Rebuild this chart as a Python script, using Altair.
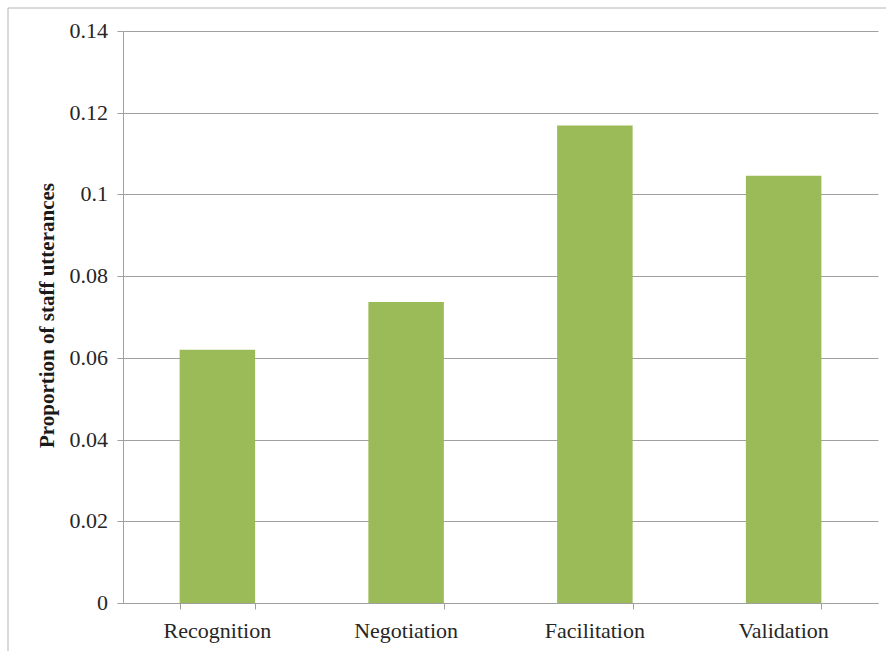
import altair as alt
import pandas as pd

categories = ["Recognition", "Negotiation", "Facilitation", "Validation"]
values = [0.062, 0.0737, 0.1169, 0.1046]
y_ticks = [0, 0.02, 0.04, 0.06, 0.08, 0.1, 0.12, 0.14]
y_tick_labels = ["0", "0.02", "0.04", "0.06", "0.08", "0.1", "0.12", "0.14"]

df = pd.DataFrame({"category": categories, "value": values})
ticks_df = pd.DataFrame({"tick": y_ticks, "label": y_tick_labels})

FONT = "Liberation Serif"
GRID = "#a0a0a0"
TEXT = "#262626"

x_axis = alt.Axis(
    title=None,
    labels=False,
    tickBand="extent",
    tickSize=6,
    tickColor=GRID,
    domainColor=GRID,
    grid=False,
)
y_axis = alt.Axis(
    title="Proportion of staff utterances",
    values=y_ticks,
    labels=False,
    tickSize=6,
    tickColor=GRID,
    domainColor=GRID,
    gridColor=GRID,
    gridWidth=1,
    titleFont=FONT,
    titleFontSize=21,
    titleFontWeight="bold",
    titleColor="#1a1a1a",
    titleAngle=-90,
    titleBaseline="middle",
    titleAlign="center",
    titleX=-76,
    titleY=284,
)
x_scale = alt.Scale(paddingInner=0.6, paddingOuter=0.3)
y_scale = alt.Scale(domain=[0, 0.14], nice=False)

bars = alt.Chart(df).mark_bar(color="#9BBB59").encode(
    x=alt.X("category:N", sort=categories, scale=x_scale, axis=x_axis),
    y=alt.Y("value:Q", scale=y_scale, axis=y_axis),
)

x_labels = alt.Chart(df).mark_text(
    font=FONT, fontSize=22, color=TEXT, align="center", baseline="alphabetic"
).encode(
    x=alt.X("category:N", sort=categories, scale=x_scale, axis=x_axis),
    y=alt.value(607),
    text="category:N",
)

y_labels = alt.Chart(ticks_df).mark_text(
    font=FONT, fontSize=22, color=TEXT, align="right", baseline="middle"
).encode(
    x=alt.value(-15),
    y=alt.Y("tick:Q", scale=y_scale, axis=y_axis),
    text="label:N",
)

frame_df = pd.DataFrame({"k": [0]})
frame_left = alt.Chart(frame_df).mark_rule(color="#b4b4b4", strokeWidth=1).encode(
    x=alt.value(-115), y=alt.value(-23), y2=alt.value(640)
)
frame_top = alt.Chart(frame_df).mark_rule(color="#b4b4b4", strokeWidth=1).encode(
    x=alt.value(-115), x2=alt.value(780), y=alt.value(-23)
)

chart = alt.layer(frame_left, frame_top, bars, x_labels, y_labels).properties(
    width=755,
    height=572,
    autosize=alt.AutoSizeParams(type="none"),
    padding={"left": 123, "top": 31, "right": 8, "bottom": 48},
    background="white",
).configure(
    font=FONT,
    view=alt.ViewConfig(stroke=None),
)

chart.save("out.html", embed_options={"renderer": "svg", "actions": False})
